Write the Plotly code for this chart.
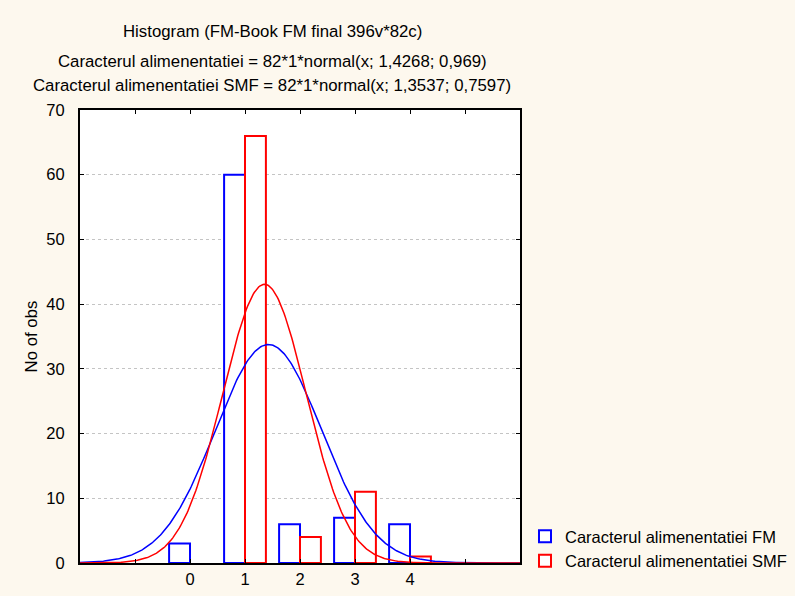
import numpy as np
import plotly.graph_objects as go

# data
categories = [0, 1, 2, 3, 4]
fm_counts = [3, 60, 6, 7, 6]
smf_counts = [0, 66, 4, 11, 1]

# fitted normal parameters (from the chart subtitle)
n_obs = 82
fm_mean, fm_sd = 1.4268, 0.969
smf_mean, smf_sd = 1.3537, 0.7597

x_ticks = [-2, -1, 0, 1, 2, 3, 4, 5, 6]
x_labels = ['', '', '0', '1', '2', '3', '4', '', '']


def normal_curve(x, mean, sd):
    return n_obs * 1 * np.exp(-0.5 * ((x - mean) / sd) ** 2) / (sd * np.sqrt(2 * np.pi))


xs = np.linspace(-2, 6, 400)

fig = go.Figure()

# empty bins are left undrawn (no outline on the axis)
fig.add_trace(go.Bar(
    x=categories, y=[v if v else None for v in fm_counts],
    name='Caracterul alimenentatiei FM',
    marker=dict(color='white', line=dict(color='#0000ff', width=2))
))
fig.add_trace(go.Bar(
    x=categories, y=[v if v else None for v in smf_counts],
    name='Caracterul alimenentatiei SMF',
    marker=dict(color='white', line=dict(color='#ff0000', width=2))
))

# normal fit curves
fig.add_trace(go.Scatter(
    x=xs, y=normal_curve(xs, fm_mean, fm_sd), mode='lines',
    line=dict(color='#0000ff', width=1.5), showlegend=False
))
fig.add_trace(go.Scatter(
    x=xs, y=normal_curve(xs, smf_mean, smf_sd), mode='lines',
    line=dict(color='#ff0000', width=1.5), showlegend=False
))

fig.update_xaxes(
    range=[-2, 6], tickvals=x_ticks, ticktext=x_labels,
    ticks='inside', ticklen=4, tickcolor='black',
    showline=True, linecolor='black', linewidth=2, mirror='ticks',
    showgrid=False, zeroline=False, automargin=False
)
fig.update_yaxes(
    range=[0, 70], dtick=10,
    title=dict(text='No of obs', standoff=4, font=dict(size=16.8)),
    ticks='inside', ticklen=4, tickcolor='black', ticklabelstandoff=10,
    showline=True, linecolor='black', linewidth=2, mirror='ticks',
    showgrid=True, gridcolor='#c4c4c4', griddash='dot', gridwidth=1,
    zeroline=False, automargin=False
)

# title lines
titles = [
    ('Histogram (FM-Book FM final 396v*82c)', 31),
    ('Caracterul alimenentatiei = 82*1*normal(x; 1,4268; 0,969)', 62),
    ('Caracterul alimenentatiei SMF = 82*1*normal(x; 1,3537; 0,7597)', 86),
]
for text, ypx in titles:
    fig.add_annotation(
        text=text, xref='paper', yref='paper',
        x=(272 - 80) / 440, y=1 + (110 - ypx) / 453,
        showarrow=False, xanchor='center', yanchor='middle',
        font=dict(size=16.8, color='black')
    )

fig.update_layout(
    width=795, height=596,
    margin=dict(l=80, r=275, t=110, b=33),
    barmode='group', bargap=0.24, bargroupgap=0,
    plot_bgcolor='white', paper_bgcolor='#fdf8ee',
    font=dict(family='Liberation Sans, Arial, sans-serif', size=16.5, color='black'),
    legend=dict(
        xref='container', yref='container',
        x=525 / 795, y=(596 - 519) / 596, xanchor='left', yanchor='top',
        bgcolor='rgba(0,0,0,0)', font=dict(size=16.5),
        itemwidth=30, tracegroupgap=0
    )
)

fig.write_html('out.html', config={'displayModeBar': False},
               post_script="document.body.style.margin='0';")
